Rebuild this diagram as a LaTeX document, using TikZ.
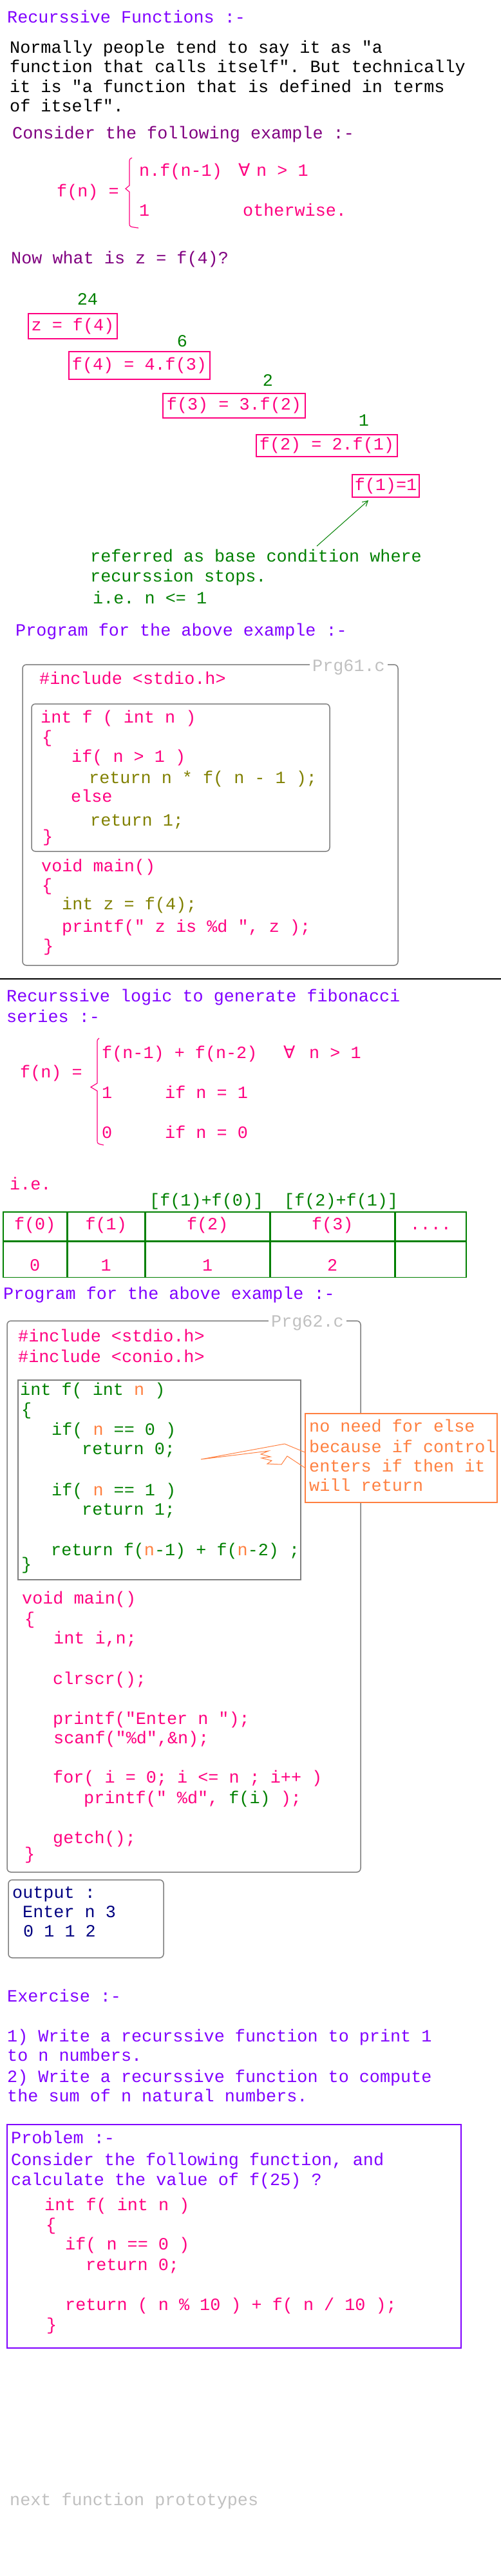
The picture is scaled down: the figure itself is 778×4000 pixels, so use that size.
\documentclass[tikz,border=0pt]{standalone}
\usepackage{fontspec}
\setmonofont{Liberation Mono}
\newfontfamily\symfont{DejaVu Sans}
\usetikzlibrary{positioning,arrows.meta}
\definecolor{hdviolet}{HTML}{8000FF}
\definecolor{hdpurple}{HTML}{800080}
\definecolor{codepink}{HTML}{FF0080}
\definecolor{codegreen}{HTML}{008000}
\definecolor{codeolive}{HTML}{808000}
\definecolor{boxgray}{HTML}{808080}
\definecolor{labelgray}{HTML}{C0C0C0}
\definecolor{noteorange}{HTML}{FF8040}
\definecolor{outnavy}{HTML}{000080}
\tikzset{% 
  page/.style = {x=1pt, y=-1pt,
    every node/.style = {font=\ttfamily\fontsize{26.8}{30}\selectfont}
  },
  txt/.style = {anchor=base west, inner sep=0pt},
  val/.style = {anchor=base, inner sep=0pt, text=codegreen},
  chainbox/.style = {draw=codepink, line width=1.5pt, text=codepink, inner sep=0pt},
  roundbox/.style = {draw=boxgray, line width=1.5pt, rounded corners=6pt},
  squarebox/.style = {draw=boxgray, line width=1.5pt},
  filelabel/.style = {anchor=base, fill=white, text=labelgray, inner xsep=4pt, inner ysep=3pt},
  cell/.style = {draw=codegreen, line width=1.5pt, text=codepink, inner xsep=0pt, inner ysep=0pt},
  hcell/.style = {cell, text height=28pt, text depth=17pt},
  vcell/.style = {cell, text height=45pt, text depth=10pt},
  brace/.style = {codepink, line width=1.2pt}
}
\begin{document}
\begin{tikzpicture}[page]
\useasboundingbox (0,0) rectangle (778,4000);
% introduction
\node[txt, hdviolet] (title) at (11,35) {Recurssive Functions :-};
\node[txt] (para1) at (15,82) {Normally people tend to say it as "a};
\node[txt] (para2) at (15,112) {function that calls itself". But technically};
\node[txt] (para3) at (15,143) {it is "a function that is defined in terms};
\node[txt] (para4) at (15,173) {of itself".};
\node[txt, hdpurple] (consider) at (19,215) {Consider the following example :-};
% factorial definition
\node[txt, codepink] (fn1) at (88,305) {f(n) =};
\node[txt, codepink] (case11) at (216,273) {n.f(n-1)};
\node[txt, codepink] (all1) at (370,273) {\symfont ∀};
\node[txt, codepink] (cond11) at (398,273) {n > 1};
\node[txt, codepink] (case12) at (216,335) {1};
\node[txt, codepink] (cond12) at (377,335) {otherwise.};
\draw[brace] (205,245) .. controls (201,247) .. (201,253) -- (201,288) -- (195,293)
  -- (201,298) -- (201,347) .. controls (201,352) .. (215,354);
\node[txt, hdpurple] (ask) at (17,409) {Now what is z = f(4)?};
% chain of calls
\node[val] (r24) at (136,473) {24};
\node[chainbox, minimum width=138, minimum height=39] (z4) at (113,506.5) {z = f(4)};
\node[val] (r6) at (283,538) {6};
\node[chainbox, minimum width=219, minimum height=43] (f4) at (216.5,567.5) {f(4) = 4.f(3)};
\node[val] (r2) at (416,599) {2};
\node[chainbox, minimum width=221, minimum height=38] (f3) at (363.5,630) {f(3) = 3.f(2)};
\node[val] (r1) at (565,661) {1};
\node[chainbox, minimum width=219, minimum height=34] (f2) at (507.5,692) {f(2) = 2.f(1)};
\node[chainbox, minimum width=104, minimum height=35] (f1) at (599,754.5) {f(1)=1};
\node[txt, codegreen] (base1) at (140,872) {referred as base condition where};
\node[txt, codegreen] (base2) at (140,903) {recurssion stops.};
\node[txt, codegreen] (base3) at (144,937) {i.e. n <= 1};
\coordinate (baseTop) at (492,848);
\coordinate (baseTip) at (572,777);
\draw[codegreen, line width=1pt, -{Straight Barb[length=8pt, width=9pt]}] (baseTop) -- (baseTip);
% program one
\node[txt, hdviolet] (prog1) at (24,987) {Program for the above example :-};
\node[roundbox, minimum width=583, minimum height=467] (prg61) at (326.5,1265.5) {};
\node[filelabel] (prg61lbl) at (541.5,1042) {Prg61.c};
\node[roundbox, minimum width=463, minimum height=229] (fact) at (280.5,1207.5) {};
\node[txt, codepink] (inc1) at (61,1062) {\#include <stdio.h>};
\node[txt, codepink] (sig1) at (63,1122) {int f ( int n )};
\node[txt, codepink] (ob1) at (65,1153) {\{};
\node[txt, codepink] (if1) at (111,1183) {if( n > 1 )};
\node[txt, codeolive] (ret1) at (138,1216) {return n * f( n - 1 );};
\node[txt, codepink] (els1) at (110,1245) {else};
\node[txt, codeolive] (ret2) at (140,1282) {return 1;};
\node[txt, codepink] (cb1) at (66,1307) {\}};
\node[txt, codepink] (main1) at (64,1353) {void main()};
\node[txt, codepink] (ob2) at (65,1383) {\{};
\node[txt, codeolive] (intz) at (96,1412) {int z = f(4);};
\node[txt, codepink] (prt1) at (96,1447) {printf(" z is \%d ", z );};
\node[txt, codepink] (cb2) at (67,1477) {\}};
\coordinate (sepL) at (0,1520);
\coordinate (sepR) at (778,1520);
\draw[line width=2pt] (sepL) -- (sepR);
% fibonacci definition
\node[txt, hdviolet] (fibt1) at (10,1555) {Recurssive logic to generate fibonacci};
\node[txt, hdviolet] (fibt2) at (10,1587) {series :-};
\node[txt, codepink] (fn2) at (31,1673) {f(n) =};
\node[txt, codepink] (case21) at (158,1643) {f(n-1) + f(n-2)};
\node[txt, codepink] (all2) at (440,1643) {\symfont ∀};
\node[txt, codepink] (cond21) at (480,1643) {n > 1};
\node[txt, codepink] (case22) at (158,1705) {1};
\node[txt, codepink] (cond22) at (256,1705) {if n = 1};
\node[txt, codepink] (case23) at (158,1767) {0};
\node[txt, codepink] (cond23) at (256,1767) {if n = 0};
\draw[brace] (154,1612) .. controls (151,1614) .. (151,1620) -- (151,1682) -- (141,1688)
  -- (151,1694) -- (151,1770) .. controls (151,1776) .. (161,1778);
\node[txt, codepink] (ie) at (15,1847) {i.e.};
\node[txt, codegreen] (sum2) at (232,1872) {[f(1)+f(0)]};
\node[txt, codegreen] (sum3) at (441,1872) {[f(2)+f(1)]};
% table
\node[hcell, minimum width=99, anchor=north west] (h0) at (4,1881) {f(0)};
\node[hcell, minimum width=119, right=0pt of h0] (h1) {f(1)};
\node[hcell, minimum width=193, right=0pt of h1] (h2) {f(2)};
\node[hcell, minimum width=192, right=0pt of h2] (h3) {f(3)};
\node[hcell, minimum width=110, right=0pt of h3] (h4) {....};
\node[vcell, minimum width=99, below=0pt of h0] (v0) {0};
\node[vcell, minimum width=119, below=0pt of h1] (v1) {1};
\node[vcell, minimum width=193, below=0pt of h2] (v2) {1};
\node[vcell, minimum width=192, below=0pt of h3] (v3) {2};
\node[vcell, minimum width=110, below=0pt of h4] (v4) {};
% program two
\node[txt, hdviolet] (prog2) at (5,2017) {Program for the above example :-};
\node[roundbox, minimum width=549, minimum height=856] (prg62) at (285.5,2479) {};
\node[filelabel] (prg62lbl) at (477.5,2060) {Prg62.c};
\node[txt, codepink] (inc2) at (28,2083) {\#include <stdio.h>};
\node[txt, codepink] (inc3) at (28,2115) {\#include <conio.h>};
\node[squarebox, minimum width=439, minimum height=310] (fibf) at (247.5,2298) {};
\node[txt, codegreen] (sig2) at (31,2166) {int f( int \textcolor{noteorange}{n} )};
\node[txt, codegreen] (ob3) at (33,2197) {\{};
\node[txt, codegreen] (if2) at (80,2228) {if( \textcolor{noteorange}{n} == 0 )};
\node[txt, codegreen] (ret3) at (127,2258) {return 0;};
\node[txt, codegreen] (if3) at (80,2322) {if( \textcolor{noteorange}{n} == 1 )};
\node[txt, codegreen] (ret4) at (127,2352) {return 1;};
\node[txt, codegreen] (ret5) at (79,2415) {return f(\textcolor{noteorange}{n}-1) + f(\textcolor{noteorange}{n}-2) ;};
\node[txt, codegreen] (cb3) at (33,2437) {\}};
\node[txt, codepink] (main2) at (34,2490) {void main()};
\node[txt, codepink] (ob4) at (38,2522) {\{};
\node[txt, codepink] (decl) at (83,2552) {int i,n;};
\node[txt, codepink] (clr) at (82,2615) {clrscr();};
\node[txt, codepink] (prt2) at (82,2677) {printf("Enter n ");};
\node[txt, codepink] (scn) at (83,2707) {scanf("\%d",\&n);};
\node[txt, codepink] (loop) at (82,2768) {for( i = 0; i <= n ; i++ )};
\node[txt, codepink] (prt3) at (130,2800) {printf(" \%d", \textcolor{codegreen}{f(i)} );};
\node[txt, codepink] (gch) at (82,2862) {getch();};
\node[txt, codepink] (cb4) at (38,2887) {\}};
% callout
\node[draw=noteorange, fill=white, line width=1.5pt, minimum width=298, minimum height=138] (callout) at (623,2264) {};
\node[txt, noteorange] (call1) at (480,2223) {no need for else};
\node[txt, noteorange] (call2) at (480,2255) {because if control};
\node[txt, noteorange] (call3) at (480,2285) {enters if then it};
\node[txt, noteorange] (call4) at (480,2315) {will return};
\draw[noteorange, line width=1pt] ([yshift=9pt]callout.west) -- (442,2242) -- (312,2266)
  -- (417,2253) -- (405,2258) -- (420,2262) -- (406,2264) -- (422,2268) -- (415,2273)
  -- (437,2274) -- (446,2261) -- ([yshift=-15pt]callout.west);
% output
\node[roundbox, minimum width=241, minimum height=121] (output) at (133.5,2979.5) {};
\node[txt, outnavy] (out1) at (19,2947) {output :};
\node[txt, outnavy] (out2) at (35,2977) {Enter n 3};
\node[txt, outnavy] (out3) at (36,3007) {0 1 1 2};
% exercise
\node[txt, hdviolet] (ex) at (11,3108) {Exercise :-};
\node[txt, hdviolet] (ex1a) at (11,3170) {1) Write a recurssive function to print 1};
\node[txt, hdviolet] (ex1b) at (11,3200) {to n numbers.};
\node[txt, hdviolet] (ex2a) at (11,3233) {2) Write a recurssive function to compute};
\node[txt, hdviolet] (ex2b) at (11,3263) {the sum of n natural numbers.};
% problem
\node[draw=hdviolet, line width=2pt, minimum width=705, minimum height=347] (problem) at (363.5,3472.5) {};
\node[txt, hdviolet] (pb1) at (17,3328) {Problem :-};
\node[txt, hdviolet] (pb2) at (17,3362) {Consider the following function, and};
\node[txt, hdviolet] (pb3) at (17,3393) {calculate the value of f(25) ?};
\node[txt, codepink] (sig3) at (69,3432) {int f( int n )};
\node[txt, codepink] (ob5) at (71,3463) {\{};
\node[txt, codepink] (if4) at (101,3493) {if( n == 0 )};
\node[txt, codepink] (ret6) at (133,3525) {return 0;};
\node[txt, codepink] (ret7) at (101,3587) {return ( n \% 10 ) + f( n / 10 );};
\node[txt, codepink] (cb5) at (72,3618) {\}};
\node[txt, labelgray] (next) at (15,3890) {next function prototypes};
\end{tikzpicture}
\end{document}
